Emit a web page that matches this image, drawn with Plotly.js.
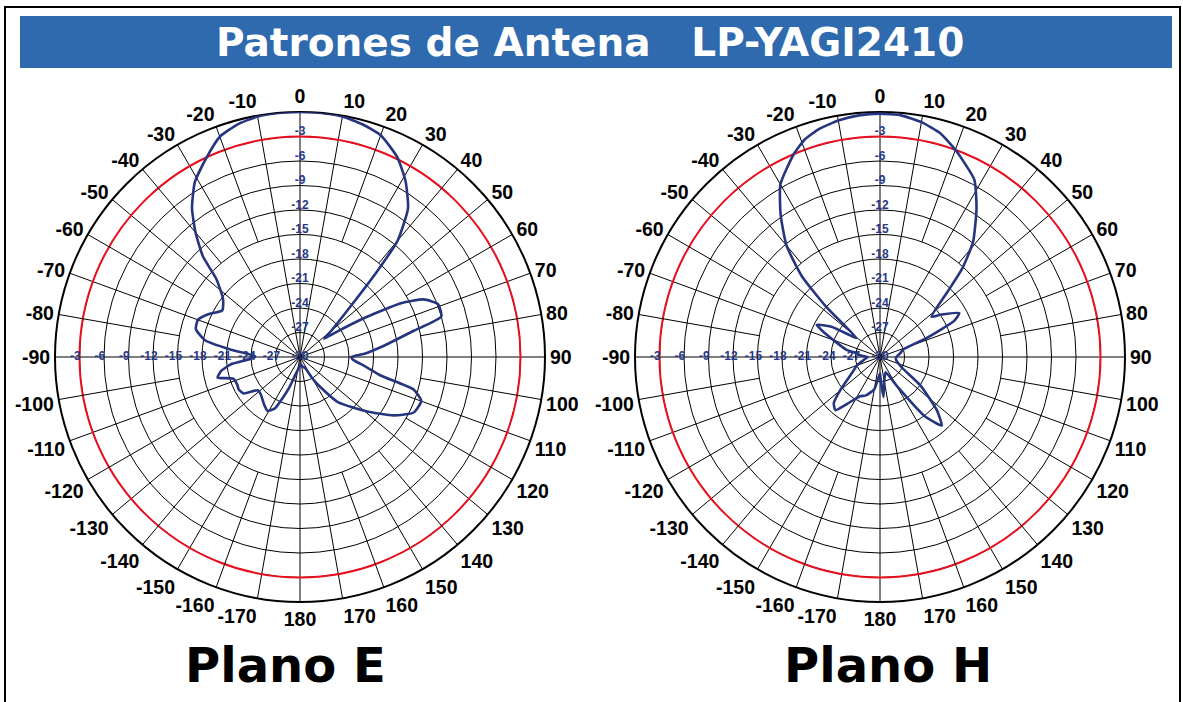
<!DOCTYPE html>
<html>
<head>
<meta charset="utf-8">
<script src="https://cdn.plot.ly/plotly-3.0.1.min.js"></script>
<style>html,body{margin:0;padding:0;background:#fff;}#chart{width:1183px;height:702px;}</style>
</head>
<body>
<div id="chart"></div>
<script>
// ---- Data (angles in degrees, clockwise from boresight; levels in dB) ----
const ePlaneTheta = [-180,-172,-165,-161,-156,-154,-149,-143,-133,-128,-123,-118,-114,-108,-104,-100,-96,-92,-89,-84,-80,-75,-70,-65,-59,-53,-47,-44,-40,-36,-31,-25,-20,-15,-10,-5,0,5,10,15,20,26,31,36,40,42,45,50,53,55,59,62,65,69,74,77,83,87,90,93,98,103,106,110,116,122,129,140,146,150,155,165,172];
const ePlaneDb    = [-29,-28.5,-27.7,-26.2,-24,-23,-22.3,-22.7,-23.4,-23.4,-21.8,-21.5,-21.6,-21.4,-19.6,-20.2,-21.5,-24,-24.5,-21.5,-18.2,-16.8,-16.7,-17.6,-18.9,-18.2,-16,-12.9,-10.1,-7.5,-5,-3,-1.3,-0.5,-0.1,0,0,0,-0.1,-0.5,-1.1,-2.8,-4.9,-7.5,-11.4,-15.9,-21.3,-25,-26.3,-25,-20.5,-16,-13.3,-11.9,-12,-15.7,-20,-22,-23.7,-23.5,-22,-19.8,-15.5,-14.2,-14.5,-16.5,-19.4,-22.8,-25.6,-27,-28.5,-28.8,-29];

const hPlaneTheta = [-180,-170,-160,-153,-145,-140,-135,-130,-120,-110,-100,-90,-85,-81,-78,-70,-66,-63,-58,-54,-51,-47,-44,-40,-35,-30,-23,-19,-15,-10,-5,0,5,10,15,20,28,33,39,43,46,52,55,61,64,68,72,80,90,100,116,125,133,138,143,150,160,170,175,178];
const hPlaneDb    = [-28,-26,-25,-24.6,-23,-21.5,-22,-23.6,-26,-27,-28,-28.5,-27.5,-27.1,-25.8,-23.9,-22.4,-21.3,-23,-25.5,-26.3,-21,-16.2,-12.2,-8.8,-5.6,-3,-1.8,-1.1,-0.6,-0.3,-0.2,-0.3,-0.8,-1.6,-3,-5.4,-8.3,-11.9,-15.3,-18.5,-22,-21,-18.9,-19.9,-24,-27,-27.5,-28,-28,-27,-24,-20.5,-18.7,-21,-26,-28,-27,-25.1,-27];

const radialTicks  = [-3,-6,-9,-12,-15,-18,-21,-24,-27];
const radialLabels = ['-3','-6','-9','-12','-15','-18','-21','-24','-27'];
const centerLabel  = ['-30'];
const centerLevel  = [-30];
const referenceLevelDb = [-3];
const innerSpokeLimitDb = -15;   // short spokes stop at this circle

const angleTickValues = [0,10,20,30,40,50,60,70,80,90,100,110,120,130,140,150,160,170,180,190,200,210,220,230,240,250,260,270,280,290,300,310,320,330,340,350];
const angleTickLabels = ['0','10','20','30','40','50','60','70','80','90','100','110','120','130','140','150','160','170','180','-170','-160','-150','-140','-130','-120','-110','-100','-90','-80','-70','-60','-50','-40','-30','-20','-10'];
// spokes running all the way to the centre, and the short ones
const fullSpokes  = [0,10,30,50,70,90,110,130,150,170,180,190,210,230,250,270,290,310,330,350];
const shortSpokes = [20,40,60,80,100,120,140,160,200,220,240,260,280,300,320,340];

const titleText = 'Patrones de Antena \u00a0 LP-YAGI2410';
const panelTitles = ['Plano E','Plano H'];

// ---- Styling ----
const W = 1183, H = 702;
const NAVY = '#26357f';
const LABEL_NAVY = '#283889';
const BANNER = '#2f69ae';
const LABEL_FONT = {family:'Liberation Sans, Arial, sans-serif', size:12, color:LABEL_NAVY, weight:'bold'};
const RANGE = [-30, 0];

function px(x){ return x / W; }
function py(y){ return (H - y) / H; }
function bold(s){ return '<b>' + s + '</b>'; }

const R = 245;
function domainFor(cx, cy){
  return { x:[px(cx - R), px(cx + R)], y:[py(cy + R), py(cy - R)] };
}
const domE = domainFor(300, 357);
const domH = domainFor(880, 357);

function closed(a){ return a.concat([a[0]]); }

const traces = [];
function emptyTrace(subplot){
  traces.push({type:'scatterpolar', subplot:subplot, r:[], theta:[], mode:'lines', hoverinfo:'skip', showlegend:false});
}
function addPattern(subplot, theta, db){
  traces.push({
    type:'scatterpolar', subplot: subplot, mode:'lines',
    theta: closed(theta), r: closed(db),
    line:{color:NAVY, width:2.6, shape:'spline', smoothing:0.5}, hoverinfo:'skip', showlegend:false
  });
}
function addRadialLabels(subplot){
  const off = 0.5;
  traces.push({
    type:'scatterpolar', subplot: subplot, mode:'text',
    theta: radialTicks.map(() => 270), r: radialTicks.map(v => v + off),
    text: radialLabels.map(bold), textposition:'middle center', cliponaxis:false,
    textfont: LABEL_FONT, hoverinfo:'skip', showlegend:false
  });
  traces.push({
    type:'scatterpolar', subplot: subplot, mode:'text',
    theta: radialTicks.map(() => 0), r: radialTicks.map(v => v + off),
    text: radialLabels.map(bold), textposition:'middle center', cliponaxis:false,
    textfont: LABEL_FONT, hoverinfo:'skip', showlegend:false
  });
  traces.push({
    type:'scatterpolar', subplot: subplot, mode:'text',
    theta: [0], r: centerLevel,
    text: centerLabel.map(bold), textposition:'middle center', cliponaxis:false,
    textfont: LABEL_FONT, hoverinfo:'skip', showlegend:false
  });
}

// base grids (circles + angle labels)
emptyTrace('polar'); emptyTrace('polar2');
// full spokes + red reference ring
emptyTrace('polar3'); emptyTrace('polar4');
// short outer spokes
emptyTrace('polar5'); emptyTrace('polar6');
// patterns and level labels on top
addPattern('polar7', ePlaneTheta, ePlaneDb);
addRadialLabels('polar7');
addPattern('polar8', hPlaneTheta, hPlaneDb);
addRadialLabels('polar8');

const hiddenAngular = {
  rotation:90, direction:'clockwise', thetaunit:'degrees',
  showgrid:false, showline:false, showticklabels:false, ticks:''
};

function basePolar(dom){
  return {
    domain: dom, bgcolor:'rgba(0,0,0,0)', hole:0,
    radialaxis:{
      range:RANGE, tickvals: radialTicks, showticklabels:false, ticks:'',
      showline:false, gridcolor:'#000', gridwidth:1
    },
    angularaxis:{
      rotation:90, direction:'clockwise', thetaunit:'degrees',
      tickvals: angleTickValues, ticktext: angleTickLabels, ticks:'',
      showline:true, linecolor:'#000', linewidth:2, showgrid:false,
      tickfont:{family:'Liberation Sans, Arial, sans-serif', size:19.5, color:'#000', weight:'bold'}
    }
  };
}
function fullSpokePolar(dom){
  return {
    domain: dom, bgcolor:'rgba(0,0,0,0)', hole:0,
    radialaxis:{
      range:RANGE, tickvals: referenceLevelDb, showticklabels:false, ticks:'',
      showline:false, gridcolor:'#e8101e', gridwidth:2
    },
    angularaxis:{
      rotation:90, direction:'clockwise', thetaunit:'degrees',
      tickvals: fullSpokes, showticklabels:false, ticks:'', showline:false,
      showgrid:true, gridcolor:'#000', gridwidth:1
    }
  };
}
function shortSpokePolar(dom){
  return {
    domain: dom, bgcolor:'rgba(0,0,0,0)',
    hole: (innerSpokeLimitDb - RANGE[0]) / (RANGE[1] - RANGE[0]),
    radialaxis:{
      range:[innerSpokeLimitDb, RANGE[1]], showgrid:false, showticklabels:false, ticks:'', showline:false
    },
    angularaxis:{
      rotation:90, direction:'clockwise', thetaunit:'degrees',
      tickvals: shortSpokes, showticklabels:false, ticks:'', showline:false,
      showgrid:true, gridcolor:'#000', gridwidth:1
    }
  };
}
function dataPolar(dom){
  return {
    domain: dom, bgcolor:'rgba(0,0,0,0)', hole:0,
    radialaxis:{ range:RANGE, showgrid:false, showticklabels:false, ticks:'', showline:false },
    angularaxis: hiddenAngular
  };
}

const layout = {
  width:W, height:H, autosize:false,
  margin:{l:0,r:0,t:0,b:0},
  paper_bgcolor:'#fff', plot_bgcolor:'#fff',
  showlegend:false, dragmode:false,
  polar: basePolar(domE),
  polar2: basePolar(domH),
  polar3: fullSpokePolar(domE),
  polar4: fullSpokePolar(domH),
  polar5: shortSpokePolar(domE),
  polar6: shortSpokePolar(domH),
  polar7: dataPolar(domE),
  polar8: dataPolar(domH),
  shapes:[
    {type:'rect', xref:'paper', yref:'paper', x0:px(5), x1:px(1180), y0:py(712), y1:py(7),
     line:{color:'#000', width:2}, fillcolor:'rgba(0,0,0,0)', layer:'below'},
    {type:'rect', xref:'paper', yref:'paper', x0:px(20), x1:px(1172), y0:py(68), y1:py(16),
     line:{width:0}, fillcolor:BANNER, layer:'below'}
  ],
  annotations:[
    {xref:'paper', yref:'paper', x:px(590), y:py(42), xanchor:'center', yanchor:'middle', showarrow:false,
     text:titleText, font:{family:'DejaVu Sans, Verdana, sans-serif', size:39, color:'#fff', weight:'bold'}},
    {xref:'paper', yref:'paper', x:px(285), y:py(665), xanchor:'center', yanchor:'middle', showarrow:false,
     text:panelTitles[0], font:{family:'DejaVu Sans, Verdana, sans-serif', size:48, color:'#000', weight:'bold'}},
    {xref:'paper', yref:'paper', x:px(888), y:py(665), xanchor:'center', yanchor:'middle', showarrow:false,
     text:panelTitles[1], font:{family:'DejaVu Sans, Verdana, sans-serif', size:48, color:'#000', weight:'bold'}}
  ]
};

Plotly.newPlot('chart', traces, layout, {staticPlot:true, displayModeBar:false});
</script>
</body>
</html>
